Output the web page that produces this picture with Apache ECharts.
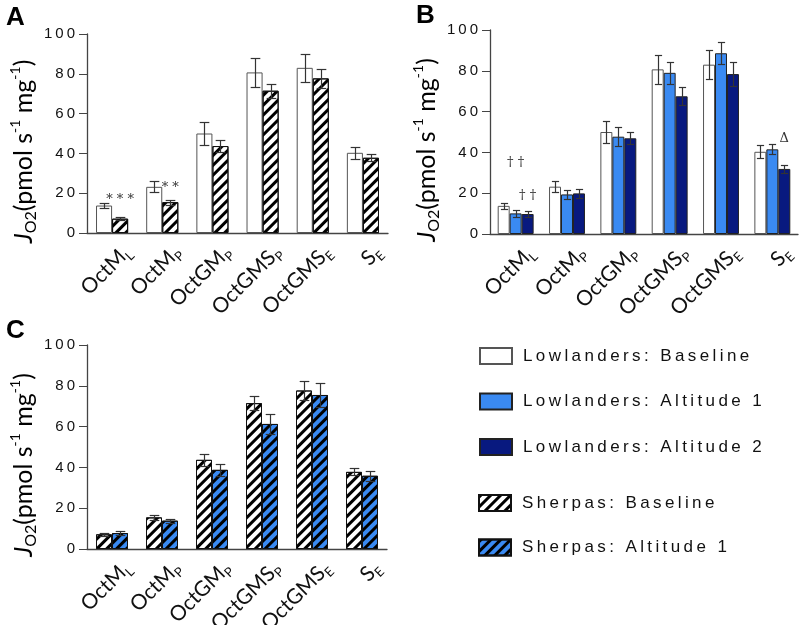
<!DOCTYPE html>
<html lang="en">
<head>
<meta charset="UTF-8">
<title>JO2 lowlanders vs sherpas</title>
<script src="https://cdn.jsdelivr.net/npm/echarts@6/dist/echarts.min.js"></script>
<style>
  html, body { margin: 0; background: #fff; }
  #chart { width: 802px; height: 625px; }
</style>
</head>
<body>
<div id="chart"></div>
<script>
// categories (text after "_" is a subscript)
var categories = ['OctM_L', 'OctM_P', 'OctGM_P', 'OctGMS_P', 'OctGMS_E', 'S_E'];
var yTicks = [0, 20, 40, 60, 80, 100];

// means and SEM
var lowBase     = [13.8, 23.2, 50.0, 80.7, 83.0, 40.3];
var lowBaseErr  = [1.4, 2.7, 5.6, 7.1, 7.1, 3.1];
var lowAlt1     = [10.1, 19.4, 47.7, 79.0, 88.6, 41.5];
var lowAlt1Err  = [1.6, 2.2, 4.6, 5.4, 5.4, 2.5];
var lowAlt2     = [9.8, 19.9, 46.9, 67.5, 78.4, 31.9];
var lowAlt2Err  = [1.6, 2.3, 2.9, 4.5, 6.0, 2.1];
var sherBase    = [7.2, 15.5, 43.7, 71.5, 77.7, 37.8];
var sherBaseErr = [0.6, 1.2, 2.9, 3.5, 4.7, 1.7];
var sherAlt1    = [7.8, 13.9, 38.8, 61.3, 75.5, 35.9];
var sherAlt1Err = [0.8, 1.0, 2.8, 4.7, 5.7, 2.5];

// significance marks: [category, bar slot, y value, text]
var marksA = [[0, 1, 16.6, '* * *'], [1, 1, 22.6, '* *']];
var marksB = [[0, 1, 34.8, '\u2020 \u2020'], [0, 2, 19.0, '\u2020 \u2020'], [5, 2, 46.6, '\u0394']];

var BLUE = '#3a8af2';
var NAVY = '#08197f';
var hatch = {
  symbol: 'rect', symbolSize: 1, color: '#000',
  dashArrayX: [1, 0], dashArrayY: [3, 4], rotation: -Math.PI / 4
};

function spaced(s) { return String(s).split('').join('\u2009'); }
function catLabel(s) {
  var p = s.split('_');
  return p[0] + '{s|' + p[1] + '}';
}
function errData(m, e) {
  return m.map(function (v, i) { return [i, v, e[i]]; });
}

function errRender(nBars, slot, gap) {
  return function (params, api) {
    var i = api.value(0), m = api.value(1), e = api.value(2);
    var band = api.size([1, 0])[0];
    var bw = band * (1 - gap) / nBars;
    var x = Math.round(api.coord([i, 0])[0] + (slot - (nBars - 1) / 2) * bw) + 0.5;
    var yT = Math.round(api.coord([i, m + e])[1]) + 0.5;
    var yB = Math.round(api.coord([i, m - e])[1]) + 0.5;
    var c = bw * 0.3;
    var st = { stroke: '#333', lineWidth: 1.2 };
    return { type: 'group', children: [
      { type: 'line', shape: { x1: x, y1: yT, x2: x, y2: yB }, style: st },
      { type: 'line', shape: { x1: x - c, y1: yT, x2: x + c, y2: yT }, style: st },
      { type: 'line', shape: { x1: x - c, y1: yB, x2: x + c, y2: yB }, style: st }
    ]};
  };
}
function markRender(list, nBars, gap) {
  return function (params, api) {
    var i = api.value(0), slot = api.value(1), y = api.value(2);
    var band = api.size([1, 0])[0];
    var bw = band * (1 - gap) / nBars;
    var p = api.coord([i, y]);
    return { type: 'text', x: p[0] + (slot - (nBars - 1) / 2) * bw, y: p[1],
      style: { text: list[params.dataIndex][3], fill: '#333', fontSize: 13, fontFamily: 'DejaVu Serif',
        align: 'center', verticalAlign: 'middle' } };
  };
}

var xAxisBase = {
  type: 'category', data: categories,
  axisLine: { lineStyle: { color: '#444', width: 1.3 } },
  axisTick: { alignWithLabel: true, length: 5, lineStyle: { color: '#444' } },
  axisLabel: {
    rotate: 45, margin: 6, interval: 0, color: '#111', fontSize: 21, fontFamily: 'Lato',
    verticalAlign: 'top', padding: [4, -4, 0, 0],
    formatter: catLabel,
    rich: { s: { fontSize: 13, lineHeight: 27, fontFamily: 'Lato', color: '#111', verticalAlign: 'bottom' } }
  }
};
var yAxisBase = {
  type: 'value', min: 0, max: 100, interval: 20,
  axisLine: { show: true, lineStyle: { color: '#444', width: 1.3 } },
  axisTick: { show: true, length: 8, lineStyle: { color: '#444' } },
  splitLine: { show: false },
  axisLabel: { margin: 12, color: '#111', fontSize: 15, fontFamily: 'Liberation Sans',
    formatter: function (v) { return yTicks.indexOf(v) >= 0 ? spaced(v) : ''; } },
  name: '{j|J}{sub|O2}(pmol s{sup|-1} mg{sup|-1})',
  nameLocation: 'middle', nameGap: 48, nameRotate: 90,
  nameTextStyle: {
    fontSize: 25, fontFamily: 'Lato', color: '#000', padding: [0, 36, 0, 0],
    rich: {
      j: { fontSize: 25, fontStyle: 'italic', fontFamily: 'Lato', color: '#000' },
      sub: { fontSize: 16, lineHeight: 31, fontFamily: 'Lato', color: '#000', verticalAlign: 'bottom' },
      sup: { fontSize: 14, lineHeight: 29, fontFamily: 'Lato', color: '#000', verticalAlign: 'top' }
    }
  }
};

function axes(n) {
  var xs = [], ys = [];
  for (var k = 0; k < n; k++) {
    xs.push(Object.assign({ gridIndex: k }, xAxisBase));
    ys.push(Object.assign({ gridIndex: k }, yAxisBase));
  }
  return { xs: xs, ys: ys };
}
var ax = axes(3);

function bar(name, data, k, color, border, decal, gap) {
  return {
    name: name, type: 'bar', xAxisIndex: k, yAxisIndex: k, data: data,
    barGap: '0%', barCategoryGap: gap,
    itemStyle: { color: color, borderColor: border, borderWidth: 1, decal: decal },
    emphasis: { disabled: true }, animation: false
  };
}
function errs(m, e, k, n, slot, gap) {
  return { type: 'custom', xAxisIndex: k, yAxisIndex: k, data: errData(m, e),
    encode: { x: 0, y: 1 }, renderItem: errRender(n, slot, gap), z: 5, silent: true, animation: false };
}
function marks(list, k, n, gap) {
  return { type: 'custom', xAxisIndex: k, yAxisIndex: k,
    data: list.map(function (r) { return [r[0], r[1], r[2]]; }),
    encode: { x: 0, y: 2 }, renderItem: markRender(list, n, gap), z: 6, silent: true, animation: false };
}

var legendText = { fontSize: 17, fontFamily: 'Liberation Sans', color: '#111', padding: [0, 0, 0, 6] };
var letter = { fontSize: 26, fontWeight: 'bold', fontFamily: 'Liberation Sans', color: '#000' };

var option = {
  animation: false,
  title: [
    { text: 'A', left: 6, top: 5, padding: 0, textStyle: letter },
    { text: 'B', left: 416, top: 3, padding: 0, textStyle: letter },
    { text: 'C', left: 6, top: 318, padding: 0, textStyle: letter }
  ],
  grid: [
    { left: 87, top: 34, width: 301, height: 199, outerBoundsMode: 'none', containLabel: false },
    { left: 490, top: 30, width: 308, height: 204, outerBoundsMode: 'none', containLabel: false },
    { left: 87, top: 345, width: 300, height: 204, outerBoundsMode: 'none', containLabel: false }
  ],
  xAxis: ax.xs,
  yAxis: ax.ys,
  legend: [
    { data: ['Lowlanders: Baseline', 'Lowlanders: Altitude 1', 'Lowlanders: Altitude 2'],
      orient: 'vertical', left: 474, top: 342, itemWidth: 32, itemHeight: 16, itemGap: 27.5,
      selectedMode: false, icon: 'rect', textStyle: legendText, formatter: spaced },
    { data: ['Sherpas: Baseline', 'Sherpas: Altitude 1'],
      orient: 'vertical', left: 473, top: 489, itemWidth: 32, itemHeight: 16, itemGap: 26.5,
      selectedMode: false, icon: 'rect', textStyle: legendText, formatter: spaced }
  ],
  series: [
    // A
    bar('Lowlanders: Baseline', lowBase, 0, '#fff', '#555', null, '36%'),
    bar('Sherpas: Baseline', sherBase, 0, '#fff', '#111', hatch, '36%'),
    errs(lowBase, lowBaseErr, 0, 2, 0, 0.36),
    errs(sherBase, sherBaseErr, 0, 2, 1, 0.36),
    marks(marksA, 0, 2, 0.36),
    // B
    bar('Lowlanders: Baseline', lowBase, 1, '#fff', '#555', null, '30%'),
    bar('Lowlanders: Altitude 1', lowAlt1, 1, BLUE, '#222', null, '30%'),
    bar('Lowlanders: Altitude 2', lowAlt2, 1, NAVY, '#222', null, '30%'),
    errs(lowBase, lowBaseErr, 1, 3, 0, 0.30),
    errs(lowAlt1, lowAlt1Err, 1, 3, 1, 0.30),
    errs(lowAlt2, lowAlt2Err, 1, 3, 2, 0.30),
    marks(marksB, 1, 3, 0.30),
    // C
    bar('Sherpas: Baseline', sherBase, 2, '#fff', '#111', hatch, '36%'),
    bar('Sherpas: Altitude 1', sherAlt1, 2, BLUE, '#111', hatch, '36%'),
    errs(sherBase, sherBaseErr, 2, 2, 0, 0.36),
    errs(sherAlt1, sherAlt1Err, 2, 2, 1, 0.36)
  ]
};

var chart = echarts.init(document.getElementById('chart'));
chart.setOption(option);
</script>
</body>
</html>
